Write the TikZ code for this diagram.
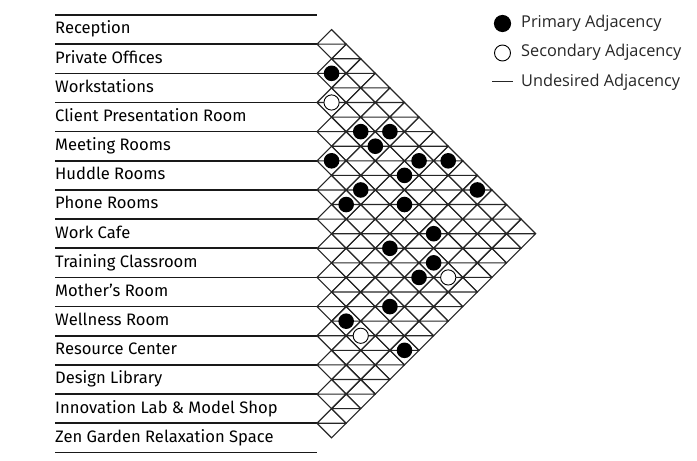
\documentclass[tikz,border=0pt]{standalone}
\usepackage{fontspec}
\setmainfont{Fira Sans}
\newfontfamily\legendfont{Open Sans}
\begin{document}
\begin{tikzpicture}[x=1pt,y=-1pt,
  rowline/.style={line width=1.6pt, black!90},
  gridline/.style={line width=1.1pt, black!85, line join=miter},
  primarydot/.style={fill=black},
  secondarydot/.style={fill=white, draw=black, line width=0.9pt},
  rowlabel/.style={anchor=base west, inner sep=0pt, font=\fontsize{16.6}{18}\selectfont},
  legendlabel/.style={anchor=west, inner sep=0pt, text=black!85, font=\legendfont\fontsize{16.3}{18}\selectfont}]
\useasboundingbox (0,0) rectangle (697,461);
\def\h{14.58}
\def\xz{317}
\def\yz{15}
% row separators
\foreach \k in {0,...,15}
  \draw[rowline] (55,{\yz+2*\k*\h}) -- (\xz,{\yz+2*\k*\h});
% row labels
\foreach \t [count=\k from 0] in {Reception, Private Offices, Workstations, Client Presentation Room, Meeting Rooms, Huddle Rooms, Phone Rooms, Work Cafe, Training Classroom, Mother’s Room, Wellness Room, Resource Center, Design Library, Innovation Lab \& Model Shop, Zen Garden Relaxation Space}
  \node[rowlabel] (r\k) at (55,{\yz+(2*\k+1)*\h+4.4}) {\t};
% diamond grid
\foreach \i in {0,...,13} {
  \pgfmathtruncatemacro\jstart{\i+1}
  \foreach \j in {\jstart,...,14} {
    \pgfmathsetmacro\cx{\xz+(\j-\i)*\h}
    \pgfmathsetmacro\cy{\yz+(\i+\j+1)*\h}
    \draw[gridline] ({\cx-\h},\cy) -- (\cx,{\cy-\h}) -- ({\cx+\h},\cy) -- (\cx,{\cy+\h}) -- cycle
                    ({\cx-\h},\cy) -- ({\cx+\h},\cy);
  }
}
% primary adjacencies
\foreach \i/\j in {1/2, 2/5, 1/6, 2/6, 4/5, 1/8, 0/9, 2/8, 4/7, 0/11, 5/7, 3/9, 3/11, 5/10, 4/12, 5/12, 7/12, 9/11, 8/14}
  \fill[primarydot] ({\xz+(\j-\i)*\h},{\yz+(\i+\j+1)*\h}) circle (7.8pt);
% secondary adjacencies
\foreach \i/\j in {2/3, 4/13, 9/12}
  \draw[secondarydot] ({\xz+(\j-\i)*\h},{\yz+(\i+\j+1)*\h}) circle (7.6pt);
% legend
\fill[primarydot] (502.5,23.5) circle (8.6pt);
\node[legendlabel] (lp) at (521,23) {Primary Adjacency};
\draw[secondarydot] (502.5,53) circle (8pt);
\node[legendlabel] (ls) at (521,52.5) {Secondary Adjacency};
\coordinate (lu1) at (492,81);
\coordinate (lu2) at (513,81);
\draw[line width=1pt, black!85] (lu1) -- (lu2);
\node[legendlabel] (lu) at (521,82) {Undesired Adjacency};
\end{tikzpicture}
\end{document}
